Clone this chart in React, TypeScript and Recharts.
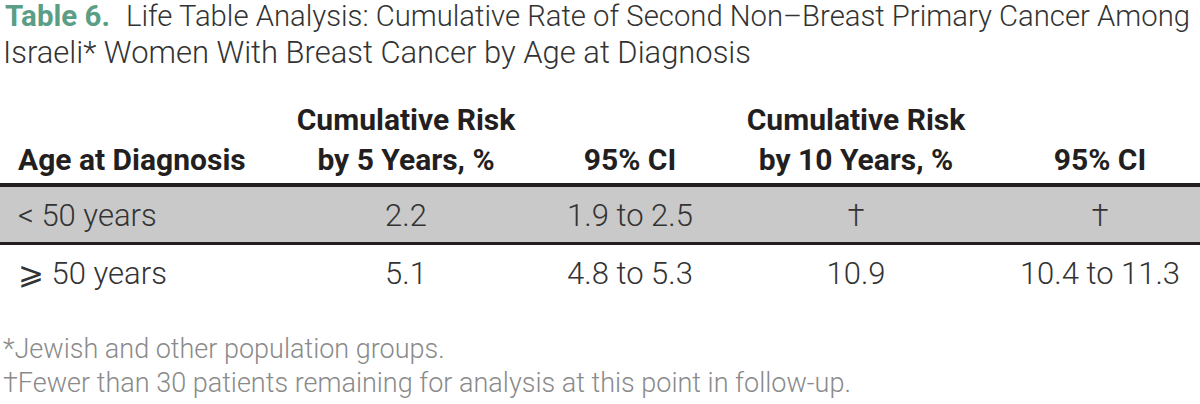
import { Bar, Cell, ComposedChart, LabelList, ReferenceLine, XAxis, YAxis } from 'recharts';

// table rows
const AGE_GROUPS = ['< 50 years', '⩾ 50 years'];
const RISK_5Y = ['2.2', '5.1'];
const CI_5Y = ['1.9 to 2.5', '4.8 to 5.3'];
const RISK_10Y = ['†', '10.9'];
const CI_10Y = ['†', '10.4 to 11.3'];

// column headers (two lines each)
const HEADERS = [
  ['', 'Age at Diagnosis'],
  ['Cumulative Risk', 'by 5 Years, %'],
  ['', '95% CI'],
  ['Cumulative Risk', 'by 10 Years, %'],
  ['', '95% CI'],
];

const TITLE_LABEL = 'Table 6.';
const TITLE_1 = 'Life Table Analysis: Cumulative Rate of Second Non–Breast Primary Cancer Among';
const TITLE_2 = 'Israeli* Women With Breast Cancer by Age at Diagnosis';
const NOTES = [
  '*Jewish and other population groups.',
  '†Fewer than 30 patients remaining for analysis at this point in follow-up.',
];

const rows = AGE_GROUPS.map((age, i) => ({
  age, risk5: RISK_5Y[i], ci5: CI_5Y[i], risk10: RISK_10Y[i], ci10: CI_10Y[i],
}));

// column layout, in units of the hidden x scale (1 unit = 1px)
const COLS = [
  { key: 'age', span: 292, left: true },
  { key: 'risk5', span: 228 },
  { key: 'ci5', span: 220 },
  { key: 'risk10', span: 232 },
  { key: 'ci10', span: 256 },
];
const starts = COLS.map((_, i) => COLS.slice(0, i).reduce((s, c) => s + c.span, 0));
const TOTAL = COLS.reduce((s, c) => s + c.span, 0);
const centers = COLS.map((c, i) => starts[i] + c.span / 2);

const GRAY = '#c9c9c9';
const INK = '#231f20';
const TEXT = '#333333';
const TEAL = '#5a9e86';
const FONT = 'Roboto, "Noto Sans", sans-serif';

const AXIS_H = 100;
const TABLE_TOP = 185;

export default function App() {
  return (
    <div style={{ position: 'absolute', left: 0, top: 0, width: 1200, height: 404, overflow: 'hidden', background: '#fff' }}>
      <ComposedChart
        width={TOTAL}
        height={404}
        data={rows}
        layout="vertical"
        barCategoryGap={0}
        margin={{ top: TABLE_TOP - AXIS_H, right: 0, bottom: 102, left: 0 }}
      >
        <XAxis
          type="number"
          orientation="top"
          domain={[0, TOTAL]}
          ticks={centers}
          interval={0}
          height={AXIS_H}
          axisLine={false}
          tickLine={false}
          tickSize={0}
          tickMargin={0}
          tick={<HeaderTick />}
        />
        <YAxis type="category" dataKey="age" hide />
        {COLS.map((c) => (
          <Bar key={c.key} dataKey={() => c.span} stackId="t" isAnimationActive={false}>
            {rows.map((r, i) => <Cell key={r.age} fill={i === 0 ? GRAY : 'none'} />)}
            <LabelList dataKey={c.key} content={c.left ? <RowLabel /> : <CellText />} />
          </Bar>
        ))}
        <ReferenceLine y={AGE_GROUPS[0]} position="start" stroke={INK} strokeWidth={4} />
        <ReferenceLine y={AGE_GROUPS[1]} position="start" stroke={INK} strokeWidth={3} />
      </ComposedChart>

      <svg width={1200} height={404} style={{ position: 'absolute', left: 0, top: 0, pointerEvents: 'none' }}>
        <text x={5} y={26} fontFamily={FONT} fontWeight={700} fontSize={30} fill={TEAL} textLength={105} lengthAdjust="spacingAndGlyphs">{TITLE_LABEL}</text>
        <text x={126} y={26} fontFamily={FONT} fontWeight={300} fontSize={30} fill={TEXT} textLength={1064} lengthAdjust="spacingAndGlyphs">{TITLE_1}</text>
        <text x={3} y={63} fontFamily={FONT} fontWeight={300} fontSize={31} fill={TEXT} textLength={748} lengthAdjust="spacingAndGlyphs">{TITLE_2}</text>
        <text x={3} y={358} fontFamily={FONT} fontWeight={300} fontSize={27} fill="#8a8a8a">{NOTES[0]}</text>
        <text x={3} y={392} fontFamily={FONT} fontWeight={300} fontSize={27} fill="#8a8a8a">{NOTES[1]}</text>
      </svg>
    </div>
  );
}

function HeaderTick(props: any) {
  const { x, y, index } = props;
  const [l1, l2] = HEADERS[index];
  const left = COLS[index].left;
  const tx = left ? x - COLS[index].span / 2 + 18 : x;
  const anchor = left ? 'start' : 'middle';
  return (
    <g fontFamily={FONT} fontWeight={700} fontSize={30} fill={INK}>
      {l1 && <text x={tx} y={y - 55} textAnchor={anchor}>{l1}</text>}
      <text x={tx} y={y - 15} textAnchor={anchor}>{l2}</text>
    </g>
  );
}

function CellText(props: any) {
  const { x, y, width, height, value } = props;
  return (
    <text x={x + width / 2} y={y + height / 2 + 11} textAnchor="middle" fontFamily={FONT} fontWeight={300} fontSize={31} fill={TEXT}>
      {value}
    </text>
  );
}

function RowLabel(props: any) {
  const { x, y, height, value } = props;
  return (
    <text x={x + 18} y={y + height / 2 + 11} textAnchor="start" fontFamily={FONT} fontWeight={300} fontSize={31} fill={TEXT}>
      {value}
    </text>
  );
}
